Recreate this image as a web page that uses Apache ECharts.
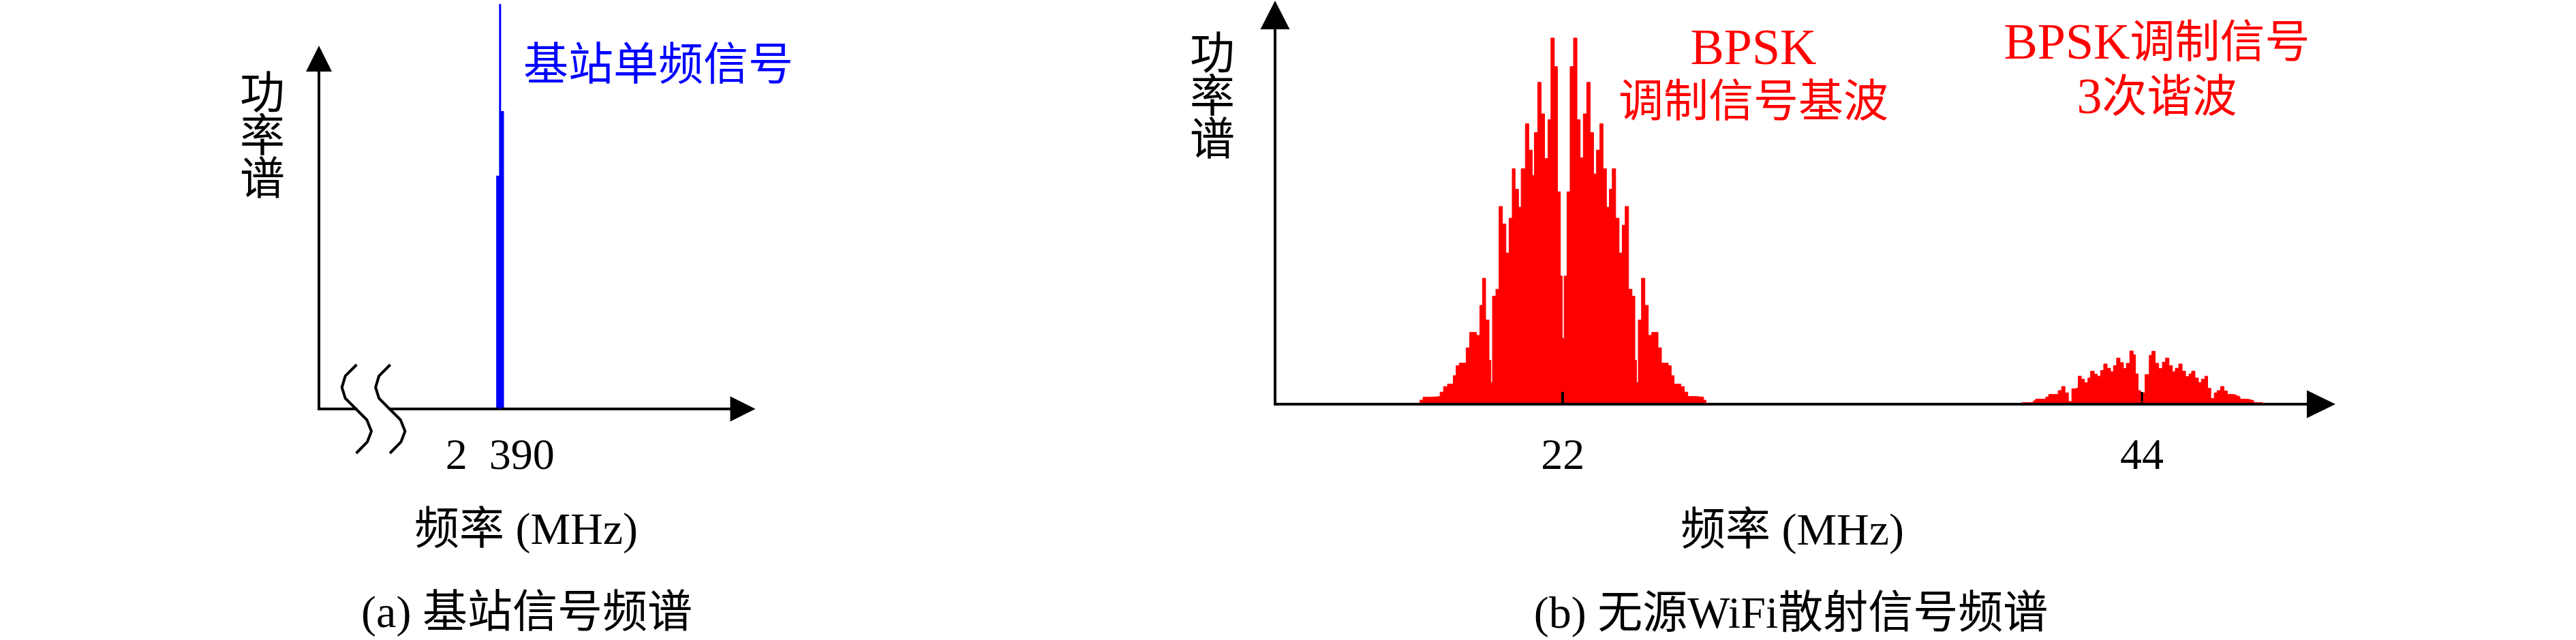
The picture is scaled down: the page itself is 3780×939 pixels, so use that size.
<!DOCTYPE html>
<html>
<head>
<meta charset="utf-8">
<script src="https://cdn.jsdelivr.net/npm/echarts@6/dist/echarts.min.js"></script>
<style>
  html, body { margin: 0; padding: 0; background: #fff; }
  #chart { width: 3780px; height: 939px; }
</style>
</head>
<body>
<div id="chart"></div>
<script>
// (a) 基站单频信号 (MHz / 相对功率)
var spikeFreq = [2389.9, 2390.0, 2390.1]
var spikePower = [66.6, 85.0, 0]
var carrierFreq = 2390
var carrierPower = 115.6
var breakAt = 2386.72 // 坐标轴断裂位置

// (b) BPSK 基波 (22 MHz) 与 3 次谐波 (44 MHz)，每个台阶的起点频率
var mainFreq = [16.56, 16.69, 17.00, 17.34, 17.47, 17.62, 17.84, 17.95, 18.07, 18.33,
  18.46, 18.72, 18.85, 18.95, 19.07, 19.20, 19.27, 19.33, 19.46, 19.58,
  19.71, 19.84, 19.96, 20.08, 20.19, 20.32, 20.42, 20.58, 20.71, 20.84,
  20.92, 21.05, 21.18, 21.31, 21.44, 21.55, 21.68, 21.80, 21.91, 21.98,
  22.05, 22.16, 22.28, 22.41, 22.54, 22.66, 22.78, 22.91, 23.04, 23.17,
  23.28, 23.41, 23.53, 23.66, 23.77, 23.88, 24.01, 24.14, 24.26, 24.37,
  24.50, 24.63, 24.74, 24.80, 24.87, 24.99, 25.12, 25.25, 25.38, 25.62,
  25.75, 26.01, 26.12, 26.23, 26.49, 26.62, 26.75, 27.09, 27.35, 27.44]
var mainPower = [1.1, 1.9, 2.1, 3.3, 4.8, 5.5, 7.8, 10.5, 11.2, 15.4,
  19.6, 18.8, 27, 34.4, 23, 12, 5.9, 29.5, 31.4, 54,
  49.2, 41.3, 50.8, 64.3, 58.7, 53.8, 64.3, 76.6, 69.4, 62.5,
  74.2, 87.9, 79.3, 67.1, 77.7, 100, 92.2, 58, 35, 18,
  35, 58, 92.2, 100, 77.7, 67.3, 79.3, 87.9, 74.2, 62.9,
  69.4, 76.6, 64.3, 53.8, 58.7, 64.3, 50.8, 41.3, 48.9, 54,
  31.4, 29.5, 12, 5.9, 23, 34.4, 27, 18.8, 19.6, 15.4,
  11.2, 10.5, 7.8, 5.5, 4.8, 3.3, 2.1, 1.9, 1.1, 0]

var harmFreq = [39.44, 39.88, 39.96, 40.35, 40.46, 40.82, 40.95, 41.08, 41.21, 41.34,
  41.47, 41.58, 41.70, 41.82, 41.95, 42.05, 42.19, 42.31, 42.43, 42.55,
  42.68, 42.81, 42.92, 43.04, 43.17, 43.30, 43.41, 43.54, 43.67, 43.76,
  43.86, 43.95, 44.06, 44.12, 44.28, 44.38, 44.51, 44.64, 44.78, 44.90,
  45.03, 45.16, 45.27, 45.40, 45.53, 45.66, 45.79, 45.89, 46.02, 46.15,
  46.26, 46.39, 46.50, 46.62, 46.75, 46.86, 46.99, 47.12, 47.25, 47.51,
  47.60, 47.73, 47.99, 48.12, 48.25, 48.59]
var harmPower = [0.43, 0.93, 1.37, 1.99, 2.67, 3.72, 4.84, 3.10, 0.74, 4.22,
  4.47, 7.64, 6.83, 5.90, 7.14, 9.00, 8.19, 7.64, 9.19, 10.99,
  9.81, 8.88, 10.55, 12.60, 11.36, 9.75, 11.17, 14.53, 13.47, 8.26,
  3.72, 0.62, 3.10, 8.07, 13.35, 14.46, 11.17, 9.75, 11.48, 12.60,
  10.55, 8.88, 9.81, 10.99, 9.00, 7.57, 8.26, 9.00, 7.14, 5.90,
  6.83, 7.64, 4.35, 1.55, 3.10, 3.72, 4.84, 3.60, 2.67, 2.36,
  1.99, 1.37, 1.24, 0.93, 0.43, 0]

var xTicksB = [22, 44]

function zip(xs, ys) {
  var out = []
  for (var i = 0; i < Math.min(xs.length, ys.length); i++) out.push([xs[i], ys[i]])
  return out
}

var FONT = '"Liberation Serif", "Noto Sans CJK SC", serif'
var BLUE = '#0000ff'
var RED = '#ff0000'

function axisLineStyle(size) {
  return {
    show: true,
    symbol: ['none', 'triangle'],
    symbolSize: size,
    lineStyle: { color: '#000', width: 4, cap: 'square' }
  }
}

function label(x, y, text, color, align, lineHeight) {
  var lh = lineHeight || 66
  return {
    type: 'text',
    x: x,
    y: y,
    z: 100,
    style: {
      text: text,
      fill: color || '#000',
      fontSize: 66,
      fontFamily: FONT,
      align: align || 'center',
      verticalAlign: 'middle',
      lineHeight: lh,
      rich: {
        // 西文字母稍大一些
        l: { fontSize: 74, fontFamily: FONT, fill: color || '#000', lineHeight: lh }
      }
    }
  }
}

var chart = echarts.init(document.getElementById('chart'), null, { renderer: 'canvas' })

var option = {
  animation: false,
  backgroundColor: '#fff',
  grid: [
    { left: 468, top: 86, width: 622, height: 514 },
    { left: 1871, top: 22, width: 1535, height: 571 }
  ],
  xAxis: [
    {
      gridIndex: 0,
      type: 'value',
      min: 2385.333,
      max: 2396.253,
      z: 3,
      axisLine: axisLineStyle([37, 37]),
      axisTick: { show: false },
      splitLine: { show: false },
      axisLabel: {
        customValues: [carrierFreq],
        margin: 39,
        fontSize: 64,
        lineHeight: 64,
        fontFamily: FONT,
        color: '#000',
        formatter: function (v) {
          return String(v).replace(/\B(?=(\d{3})+(?!\d))/g, '  ')
        }
      }
    },
    {
      gridIndex: 1,
      type: 'value',
      min: 11.07,
      max: 50.81,
      z: 3,
      axisLine: axisLineStyle([41, 42]),
      axisTick: {
        show: true,
        inside: true,
        length: 18,
        customValues: xTicksB,
        lineStyle: { color: '#000', width: 4 }
      },
      splitLine: { show: false },
      axisLabel: {
        customValues: xTicksB,
        margin: 46,
        fontSize: 64,
        lineHeight: 64,
        fontFamily: FONT,
        color: '#000'
      }
    }
  ],
  yAxis: [
    {
      gridIndex: 0,
      type: 'value',
      min: 0,
      max: 100,
      z: 3,
      axisLine: axisLineStyle([38, 38]),
      axisTick: { show: false },
      axisLabel: { show: false },
      splitLine: { show: false }
    },
    {
      gridIndex: 1,
      type: 'value',
      min: 0,
      max: 106.3,
      z: 3,
      axisLine: axisLineStyle([43, 42]),
      axisTick: { show: false },
      axisLabel: { show: false },
      splitLine: { show: false }
    }
  ],
  series: [
    {
      type: 'line',
      xAxisIndex: 0,
      yAxisIndex: 0,
      step: 'end',
      symbol: 'none',
      lineStyle: { width: 0 },
      areaStyle: { color: BLUE, opacity: 1 },
      data: zip(spikeFreq, spikePower)
    },
    {
      type: 'line',
      xAxisIndex: 0,
      yAxisIndex: 0,
      symbol: 'none',
      clip: false,
      lineStyle: { width: 3, color: BLUE },
      data: [[carrierFreq, 0], [carrierFreq, carrierPower]]
    },
    {
      type: 'line',
      xAxisIndex: 1,
      yAxisIndex: 1,
      step: 'end',
      symbol: 'none',
      lineStyle: { width: 1, color: RED },
      areaStyle: { color: RED, opacity: 1 },
      data: zip(mainFreq, mainPower)
    },
    {
      type: 'line',
      xAxisIndex: 1,
      yAxisIndex: 1,
      step: 'end',
      symbol: 'none',
      lineStyle: { width: 1, color: RED },
      areaStyle: { color: RED, opacity: 1 },
      data: zip(harmFreq, harmPower)
    },
    {
      // 坐标轴断裂符号
      type: 'custom',
      xAxisIndex: 0,
      yAxisIndex: 0,
      z: 10,
      silent: true,
      data: [[breakAt, 0]],
      renderItem: function (params, api) {
        var p = api.coord([api.value(0), api.value(1)])
        var half = 24.7
        var wave = [[1, -65], [-15.6, -48.3], [-20.6, -31.7], [-15.6, -15.7],
          [16, 16], [22.7, 32.7], [16.7, 48.3], [0.4, 65]]
        function curve(cx) {
          return {
            type: 'polyline',
            shape: { points: wave.map(function (d) { return [cx + d[0], p[1] + d[1]] }) },
            style: { stroke: '#000', lineWidth: 4, fill: null, lineJoin: 'round' }
          }
        }
        return {
          type: 'group',
          children: [
            {
              type: 'rect',
              shape: { x: p[0] - half + 2, y: p[1] - 4, width: 2 * half - 4, height: 8 },
              style: { fill: '#fff' }
            },
            curve(p[0] - half),
            curve(p[0] + half)
          ]
        }
      }
    }
  ],
  graphic: [
    label(385, 205, '功\n率\n谱', '#000', 'center', 63),
    label(768, 100, '基站单频信号', BLUE, 'left'),
    label(772, 781, '频率 (MHz)'),
    label(773, 903, '(a) 基站信号频谱'),
    label(1779, 147, '功\n率\n谱', '#000', 'center', 63),
    label(2573, 114, '{l|BPSK}\n调制信号基波', RED, 'center', 79),
    label(3165, 107, '{l|BPSK}调制信号\n{l|3}次谐波', RED, 'center', 80),
    label(2630, 782, '频率 (MHz)'),
    label(2628, 904, '(b) 无源WiFi散射信号频谱')
  ]
}

chart.setOption(option)
</script>
</body>
</html>
